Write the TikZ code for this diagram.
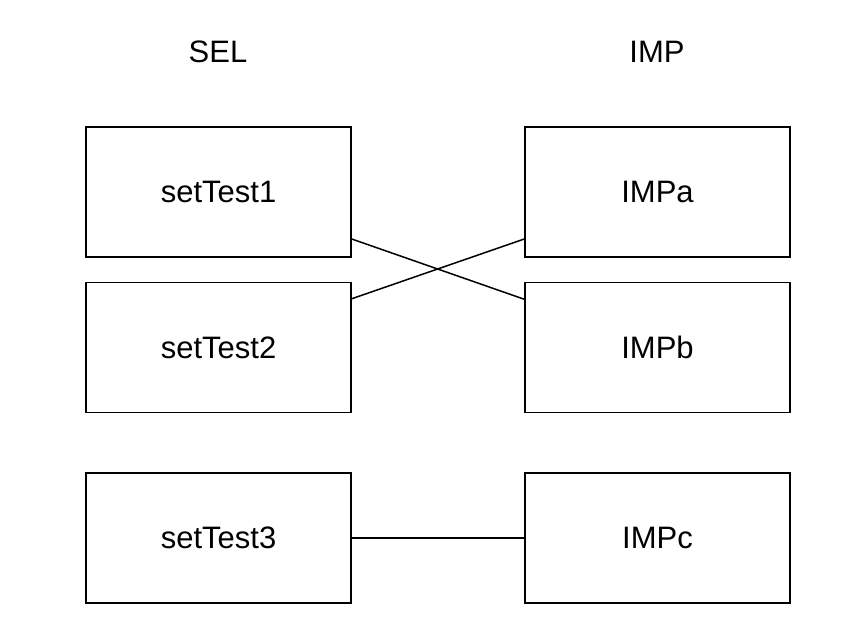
\documentclass[tikz,border=0pt]{standalone}
\usepackage{fontspec}
\setmainfont{Liberation Sans}
\begin{document}
\begin{tikzpicture}[x=1pt,y=-1pt,
  box/.style={draw=black, line width=1.5pt, minimum width=265pt, minimum height=130pt, inner sep=0pt, font=\fontsize{31}{36}\selectfont},
  head/.style={font=\fontsize{31}{36}\selectfont, inner sep=0pt},
  conn/.style={draw=black, line width=1.5pt}]
\useasboundingbox (0,0) rectangle (858,642);
\node[head] (sel) at (218,52) {SEL};
\node[head] (imp) at (657,52) {IMP};
\node[box] (s1) at (218.5,192) {setTest1};
\node[box] (s2) at (218.5,347.5) {setTest2};
\node[box] (s3) at (218.5,538) {setTest3};
\node[box] (ia) at (657.5,192) {IMPa};
\node[box] (ib) at (657.5,347.5) {IMPb};
\node[box] (ic) at (657.5,538) {IMPc};
\draw[conn] ([yshift=-47pt]s1.east) -- ([yshift=-17.5pt]ib.north west);
\draw[conn] ([yshift=-17pt]s2.north east) -- ([yshift=-47pt]ia.west);
\draw[conn] (s3.east) -- (ic.west);
\end{tikzpicture}
\end{document}
